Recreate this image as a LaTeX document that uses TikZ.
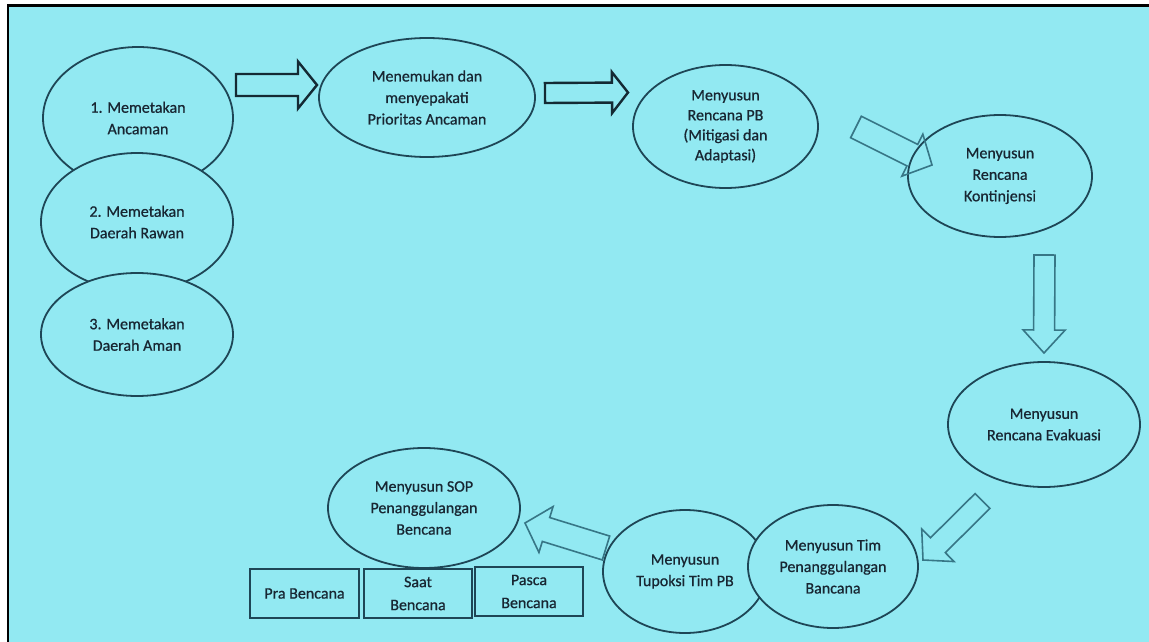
\documentclass[tikz,border=0pt]{standalone}
\usepackage{fontspec}
\setmainfont{Carlito}[FakeBold=0.7]
\usetikzlibrary{calc,shapes.geometric}
\definecolor{bgcyan}{RGB}{146,233,242}
\definecolor{edgec}{RGB}{30,70,86}
\definecolor{txtc}{RGB}{24,38,50}
\definecolor{arrdark}{RGB}{20,42,52}
\definecolor{arrlight}{RGB}{55,118,134}
\newcommand{\drawblockarrow}[6]{%
  \coordinate (#2b) at ($(#3)!#4!(#2)$);
  \draw[#1] ($(#2)!#5!90:(#3)$) -- ($(#2b)!#5!-90:(#2)$) -- ($(#2b)!#6!-90:(#2)$) -- (#3)
    -- ($(#2b)!#6!90:(#2)$) -- ($(#2b)!#5!90:(#2)$) -- ($(#2)!#5!-90:(#3)$) -- cycle;
}
\tikzset{
  stage/.style={ellipse, draw=edgec, line width=1.8pt, fill=bgcyan, inner sep=0pt,
    text=txtc, align=center, font=\fontsize{16}{21.5}\selectfont},
  phasebox/.style={rectangle, draw=edgec, line width=1.8pt, fill=bgcyan, inner sep=0pt,
    text=txtc, align=center, font=\fontsize{16}{23}\selectfont},
  bigarrow/.style={draw=arrdark, line width=2.4pt, line join=miter},
  thinarrow/.style={draw=arrlight, line width=1.6pt, line join=miter},
}
\begin{document}
\begin{tikzpicture}[x=1pt, y=-1pt]
\useasboundingbox (0,0) rectangle (1149,642);
\fill[white] (0,0) rectangle (1149,642);
\fill[bgcyan] (8,5.5) rectangle (1149,642);
\draw[black, line width=2.4pt] (8,642) -- (8,5.5) -- (1149,5.5);

% left column
\node[stage, minimum width=190pt, minimum height=142pt] (e1) at (138,118) {1. Memetakan\\Ancaman};
\node[stage, minimum width=192pt, minimum height=138pt] (e2) at (137,222) {2. Memetakan\\Daerah Rawan};
\node[stage, minimum width=192pt, minimum height=123pt] (e3) at (137,334.5) {3. Memetakan\\Daerah Aman};

% top row
\node[stage, minimum width=216pt, minimum height=119pt] (e4) at (427,97.5) {Menemukan dan\\menyepakati\\Prioritas Ancaman};
\node[stage, minimum width=185pt, minimum height=123pt, font=\fontsize{16}{20}\selectfont] (e5) at (725.5,126.5) {Menyusun\\Rencana PB\\(Mitigasi dan\\Adaptasi)};
\node[stage, minimum width=184pt, minimum height=122pt] (e6) at (1000,176) {Menyusun\\Rencana\\Kontinjensi};
\node[stage, minimum width=192pt, minimum height=125pt] (e7) at (1044,424.5) {Menyusun\\Rencana Evakuasi};

% bottom row
\node[stage, minimum width=164pt, minimum height=123pt] (e9) at (685,571.5) {Menyusun\\Tupoksi Tim PB};
\node[stage, minimum width=170pt, minimum height=123pt] (e8) at (833,566.5) {Menyusun Tim\\Penanggulangan\\Bancana};
\node[stage, minimum width=192pt, minimum height=120pt] (e10) at (424,508) {Menyusun SOP\\Penanggulangan\\Bencana};

% phase boxes
\node[phasebox, minimum width=109pt, minimum height=49pt] (b1) at (304.5,593.5) {Pra Bencana};
\node[phasebox, minimum width=108pt, minimum height=49pt] (b2) at (418,593.5) {Saat\\Bencana};
\node[phasebox, minimum width=108pt, minimum height=49pt] (b3) at (529,591.5) {Pasca\\Bencana};

% arrow end points
\coordinate (t1) at (236,85);   \coordinate (p1) at (317,85);
\coordinate (t2) at (545,93);   \coordinate (p2) at (628,92.5);
\coordinate (t3) at (856,127);  \coordinate (p3) at (932,165);
\coordinate (t4) at (1044.5,255); \coordinate (p4) at (1044,353);
\coordinate (t5) at (982.5,501); \coordinate (p5) at (923,560);
\coordinate (t6) at (606,548);  \coordinate (p6) at (525,523);

\drawblockarrow{bigarrow}{t1}{p1}{19pt}{11pt}{23.5pt}
\drawblockarrow{bigarrow}{t2}{p2}{16pt}{10pt}{20.5pt}
\drawblockarrow{thinarrow}{t3}{p3}{22pt}{12pt}{23.5pt}
\drawblockarrow{thinarrow}{t4}{p4}{23pt}{10.5pt}{21pt}
\drawblockarrow{thinarrow}{t5}{p5}{21pt}{10.5pt}{23pt}
\drawblockarrow{thinarrow}{t6}{p6}{22pt}{12.5pt}{24pt}
\end{tikzpicture}
\end{document}
